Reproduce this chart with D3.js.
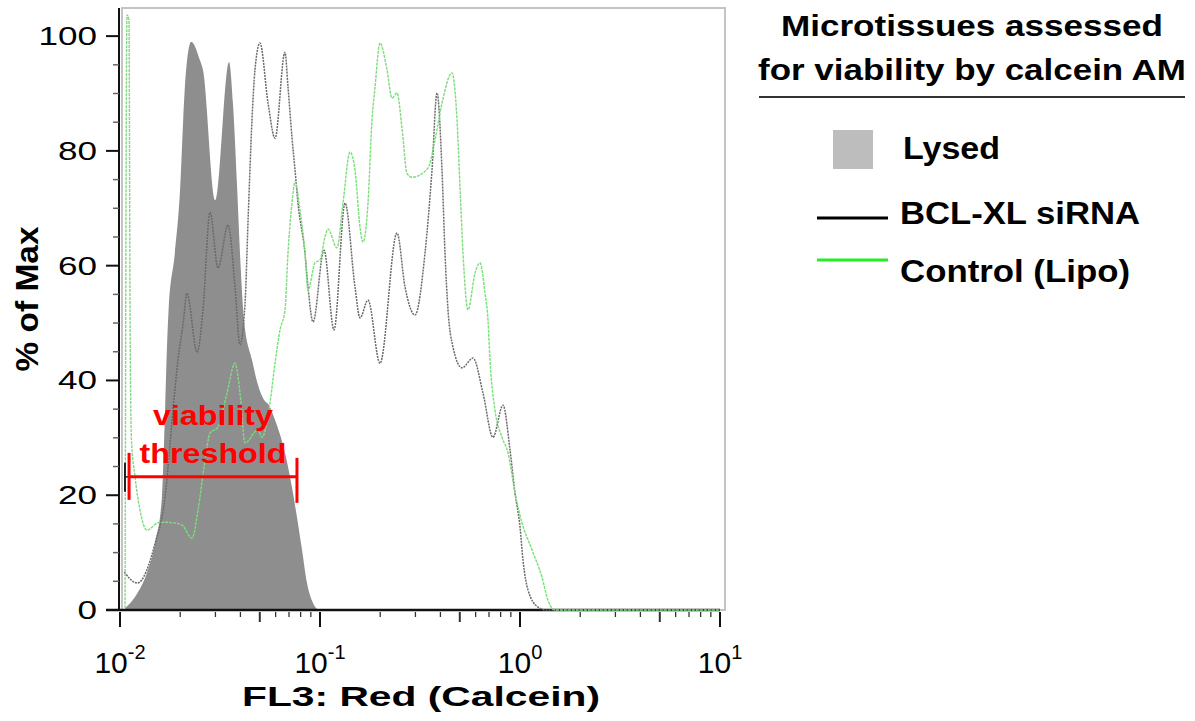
<!DOCTYPE html>
<html>
<head>
<meta charset="utf-8">
<script src="https://cdn.jsdelivr.net/npm/d3@7"></script>
<style>
  html, body { margin: 0; padding: 0; background: #ffffff; }
  svg { display: block; }
  text { font-family: "Liberation Sans", Arial, sans-serif; }
</style>
</head>
<body>
<svg id="chart" width="1195" height="721"></svg>
<script>
// ---------------- data ----------------
// x: FL3 Red (Calcein) intensity, y: % of Max
const lysed = [
  [0.0106,0.3],[0.0119,2.3],[0.0138,7.0],[0.0150,11.7],[0.0162,19.7],[0.0168,34.8],
  [0.0172,46.5],[0.0175,52.3],[0.0188,62.2],[0.0200,73.7],[0.0207,85.4],[0.0214,94.1],
  [0.0227,99.0],[0.0251,95.8],[0.0260,94.1],[0.0299,71.4],[0.0351,95.5],[0.0367,88.3],
  [0.0385,73.7],[0.0398,62.2],[0.0417,50.5],[0.0457,43.6],[0.0490,39.2],[0.0525,36.6],
  [0.0556,35.7],[0.0596,33.1],[0.0668,27.4],[0.0724,21.4],[0.0767,16.2],[0.0813,10.5],
  [0.0861,4.7],[0.0923,1.2],[0.0977,0]
];
const bclxl = [
  [0.0105,6.6],[0.0122,4.7],[0.0150,11.7],[0.0168,19.7],[0.0184,34.8],[0.0195,43.6],
  [0.0207,50.0],[0.0216,55.2],[0.0243,44.9],[0.0260,52.3],[0.0282,69.3],[0.0309,59.6],
  [0.0347,67.1],[0.0376,56.3],[0.0398,46.2],[0.0422,53.5],[0.0437,68.0],[0.0457,85.4],
  [0.0473,94.1],[0.0501,98.8],[0.0550,88.3],[0.0596,82.2],[0.0668,97.2],[0.0692,91.1],
  [0.0724,82.4],[0.0750,76.7],[0.0776,70.9],[0.0841,62.2],[0.0871,56.3],[0.0923,50.2],
  [0.1047,62.7],[0.1175,48.8],[0.1334,70.9],[0.1496,56.3],[0.1585,50.9],[0.1738,54.0],
  [0.1995,43.0],[0.2427,65.7],[0.2661,56.3],[0.2985,51.4],[0.3350,62.2],[0.3631,76.7],
  [0.3846,90.1],[0.4074,76.7],[0.4217,62.2],[0.4365,52.3],[0.4624,45.8],[0.5129,42.2],
  [0.5821,43.9],[0.6531,37.8],[0.7328,30.1],[0.8222,35.7],[0.8913,27.9],[0.9441,20.4],
  [1.000,14.5],[1.035,8.7],[1.096,3.5],[1.230,0.5],[1.350,0],[10,0]
];
const control = [
  [0.01060,0.3],[0.01084,103.7],[0.01109,102.8],[0.01122,54.0],[0.01141,29.6],[0.01189,23.2],
  [0.01259,17.4],[0.01365,13.9],[0.01549,15.2],[0.01679,15.3],[0.01841,15.2],[0.02042,14.8],
  [0.02291,12.5],[0.02455,17.4],[0.02661,26.1],[0.02818,30.8],[0.03090,31.9],[0.03428,37.8],
  [0.03758,43.0],[0.03981,37.8],[0.04217,29.1],[0.04898,31.4],[0.05129,30.1],[0.05623,36.1],
  [0.05957,43.0],[0.06310,48.8],[0.06683,52.3],[0.06918,62.2],[0.07244,70.9],[0.07499,74.6],
  [0.07943,69.7],[0.08414,62.2],[0.08710,55.7],[0.09441,60.5],[0.1000,61.0],[0.1059,65.0],
  [0.1096,66.4],[0.1216,63.1],[0.1303,70.9],[0.1413,79.8],[0.1496,76.7],[0.1585,66.7],
  [0.1641,64.1],[0.1738,70.9],[0.1820,85.4],[0.1884,91.1],[0.1995,98.8],[0.2163,94.1],
  [0.2291,89.2],[0.2427,90.1],[0.2570,84.0],[0.2723,76.1],[0.2884,75.4],[0.3467,77.0],
  [0.3758,81.9],[0.4074,88.3],[0.4571,93.6],[0.4842,85.4],[0.5012,73.7],[0.5188,62.2],
  [0.5495,52.3],[0.5957,58.7],[0.6310,60.5],[0.6683,55.2],[0.6918,50.5],[0.7079,43.6],
  [0.7499,34.8],[0.8128,30.1],[0.8710,27.4],[0.9441,20.4],[1.023,15.2],[1.148,10.5],
  [1.288,5.7],[1.380,1.7],[1.445,0.3],[1.500,0],[10,0]
];
const xMajorTicks = [0.01, 0.1, 1, 10];
const xTickExponents = ["-2", "-1", "0", "1"];
const yMajorTicks = [0, 20, 40, 60, 80, 100];
const yMinorTicks = [5, 10, 15, 25, 30, 35, 45, 50, 55, 65, 70, 75, 85, 90, 95];
const thresholdGate = { from: 0.0111, to: 0.0767, level: 23.2 };
const seriesNames = ["Lysed", "BCL-XL siRNA", "Control (Lipo)"];
const legendTitle = ["Microtissues assessed", "for viability by calcein AM"];
const xAxisTitle = "FL3: Red (Calcein)";
const yAxisTitle = "% of Max";
const annotation = ["viability", "threshold"];

// ---------------- drawing ----------------
const svg = d3.select("#chart");
const x = d3.scaleLog().domain([0.01, 10]).range([120, 720]);
const y = d3.scaleLinear().domain([0, 104.9]).range([610, 8]);

const cFill = "#8e8e8e", cBcl = "#6a6a6a", cCtrl = "#7ade7a";

// frame
svg.append("rect").attr("x", 122).attr("y", y.range()[1]).attr("width", 603)
  .attr("height", y.range()[0] - y.range()[1])
  .attr("fill", "none").attr("stroke", "#c4c4c4").attr("stroke-width", 2);

// lysed area
svg.append("path").datum(lysed)
  .attr("d", d3.area().x(d => x(d[0])).y0(y(0)).y1(d => y(d[1])).curve(d3.curveMonotoneX))
  .attr("fill", cFill);

// axes lines
svg.append("line").attr("x1", 119).attr("x2", 119).attr("y1", 8).attr("y2", y(0) + 1)
  .attr("stroke", "#111").attr("stroke-width", 2);
svg.append("line").attr("x1", 106).attr("x2", x(10)).attr("y1", y(0)).attr("y2", y(0))
  .attr("stroke", "#111").attr("stroke-width", 2.5);

// y ticks
yMajorTicks.forEach(v => {
  svg.append("line").attr("x1", 106).attr("x2", 119).attr("y1", y(v)).attr("y2", y(v))
    .attr("stroke", "#111").attr("stroke-width", 2);
  const s = String(v);
  svg.append("text").attr("x", 97).attr("y", y(v) + 9).attr("text-anchor", "end")
    .attr("font-size", 25).attr("textLength", s.length * 19.5).attr("lengthAdjust", "spacingAndGlyphs")
    .attr("fill", "#000").text(s);
});
yMinorTicks.forEach(v => {
  svg.append("line").attr("x1", 113).attr("x2", 119).attr("y1", y(v)).attr("y2", y(v))
    .attr("stroke", "#666").attr("stroke-width", 1.5);
});

// x ticks
xMajorTicks.forEach((v, i) => {
  svg.append("line").attr("x1", x(v)).attr("x2", x(v)).attr("y1", y(0) + 2).attr("y2", y(0) + 17)
    .attr("stroke", "#111").attr("stroke-width", 2);
  const t = svg.append("text").attr("x", x(v)).attr("y", 673).attr("text-anchor", "middle").attr("fill", "#000");
  t.append("tspan").attr("font-size", 30).text("10");
  t.append("tspan").attr("font-size", 20).attr("dy", -14).text(xTickExponents[i]);
  if (i < xMajorTicks.length - 1) {
    for (let k = 2; k <= 9; k++) {
      const m = v * k;
      svg.append("line").attr("x1", x(m)).attr("x2", x(m)).attr("y1", y(0) + 2)
        .attr("y2", y(0) + (k === 5 ? 12 : 7))
        .attr("stroke", "#333").attr("stroke-width", k === 5 ? 2 : 1.3);
    }
  }
});

// series lines
const line = d3.line().x(d => x(d[0])).y(d => y(d[1])).curve(d3.curveMonotoneX);
svg.append("path").datum(bclxl).attr("d", line).attr("fill", "none")
  .attr("stroke", cBcl).attr("stroke-width", 1.5).attr("stroke-dasharray", "2,1");
svg.append("path").datum(control).attr("d", line).attr("fill", "none")
  .attr("stroke", cCtrl).attr("stroke-width", 1.4).attr("stroke-dasharray", "3,1");

// small black gate marker near left edge
const gy = y(thresholdGate.level);
svg.append("line").attr("x1", 125).attr("x2", 125).attr("y1", gy - 14).attr("y2", gy + 15)
  .attr("stroke", "#222").attr("stroke-width", 2);
svg.append("line").attr("x1", 125).attr("x2", 130).attr("y1", gy).attr("y2", gy)
  .attr("stroke", "#222").attr("stroke-width", 1.5);

// red viability threshold gate
const gx1 = x(thresholdGate.from), gx2 = x(thresholdGate.to);
svg.append("line").attr("x1", gx1).attr("x2", gx2).attr("y1", gy).attr("y2", gy)
  .attr("stroke", "#ff0000").attr("stroke-width", 3);
svg.append("line").attr("x1", gx1).attr("x2", gx1).attr("y1", gy - 24).attr("y2", gy + 23)
  .attr("stroke", "#ff0000").attr("stroke-width", 3);
svg.append("line").attr("x1", gx2).attr("x2", gx2).attr("y1", gy - 19).attr("y2", gy + 26)
  .attr("stroke", "#ff0000").attr("stroke-width", 3);
const annX = (gx1 + gx2) / 2;
svg.append("text").attr("x", annX).attr("y", 425).attr("text-anchor", "middle")
  .attr("font-size", 27).attr("font-weight", "bold").attr("fill", "#ff0000")
  .attr("textLength", 120).attr("lengthAdjust", "spacingAndGlyphs").text(annotation[0]);
svg.append("text").attr("x", annX).attr("y", 463).attr("text-anchor", "middle")
  .attr("font-size", 27).attr("font-weight", "bold").attr("fill", "#ff0000")
  .attr("textLength", 147).attr("lengthAdjust", "spacingAndGlyphs").text(annotation[1]);

// axis titles
svg.append("text").attr("transform", "translate(38,299) rotate(-90)").attr("text-anchor", "middle")
  .attr("font-size", 31).attr("font-weight", "bold").attr("fill", "#000")
  .attr("textLength", 145).attr("lengthAdjust", "spacingAndGlyphs").text(yAxisTitle);
svg.append("text").attr("x", 421).attr("y", 706).attr("text-anchor", "middle")
  .attr("font-size", 28).attr("font-weight", "bold").attr("fill", "#000")
  .attr("textLength", 358).attr("lengthAdjust", "spacingAndGlyphs").text(xAxisTitle);

// legend
svg.append("text").attr("x", 972).attr("y", 36).attr("text-anchor", "middle")
  .attr("font-size", 29).attr("font-weight", "bold").attr("fill", "#000")
  .attr("textLength", 382).attr("lengthAdjust", "spacingAndGlyphs").text(legendTitle[0]);
svg.append("text").attr("x", 972).attr("y", 80).attr("text-anchor", "middle")
  .attr("font-size", 29).attr("font-weight", "bold").attr("fill", "#000")
  .attr("textLength", 428).attr("lengthAdjust", "spacingAndGlyphs").text(legendTitle[1]);
svg.append("line").attr("x1", 759).attr("x2", 1185).attr("y1", 97).attr("y2", 97)
  .attr("stroke", "#333").attr("stroke-width", 2);

svg.append("rect").attr("x", 833).attr("y", 130).attr("width", 40).attr("height", 39)
  .attr("fill", "#bdbdbd");
svg.append("line").attr("x1", 817).attr("x2", 888).attr("y1", 218).attr("y2", 218)
  .attr("stroke", "#000").attr("stroke-width", 3);
svg.append("line").attr("x1", 817).attr("x2", 888).attr("y1", 260).attr("y2", 260)
  .attr("stroke", "#22ee22").attr("stroke-width", 3);

const legendLabelY = [159, 224, 282];
const legendLabelLen = [97, 240, 230];
seriesNames.forEach((n, i) => {
  svg.append("text").attr("x", i === 0 ? 903 : 900).attr("y", legendLabelY[i])
    .attr("font-size", 31).attr("font-weight", "bold").attr("fill", "#000")
    .attr("textLength", legendLabelLen[i]).attr("lengthAdjust", "spacingAndGlyphs").text(n);
});
</script>
</body>
</html>
